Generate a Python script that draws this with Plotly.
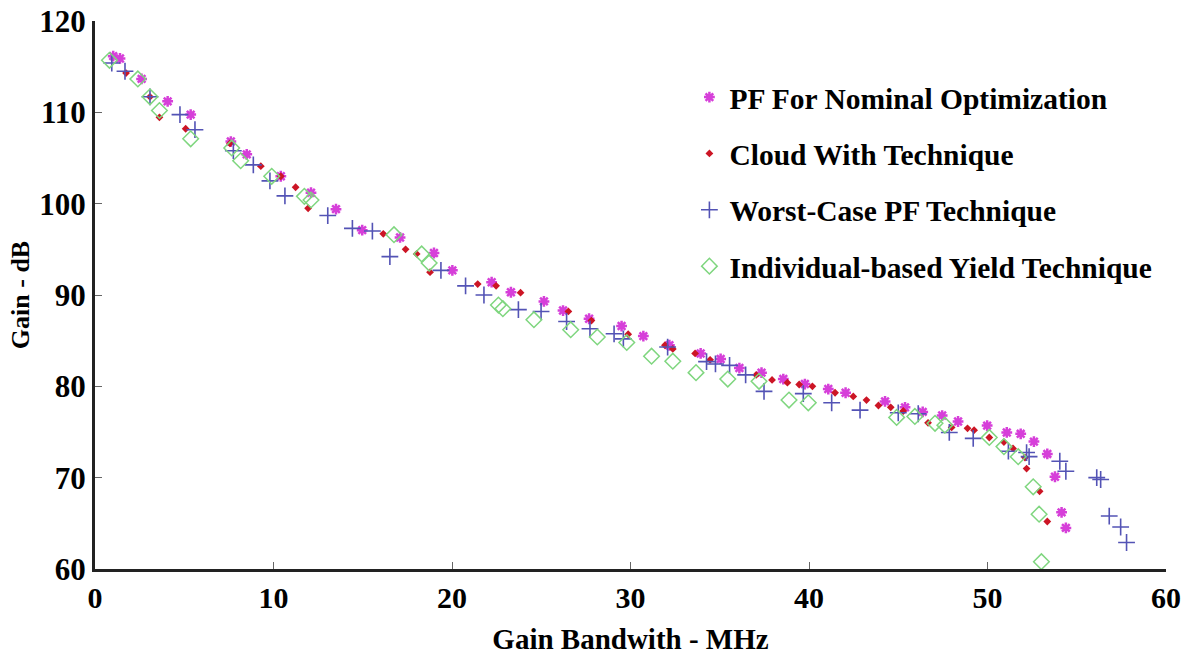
import plotly.graph_objects as go

# ---- data ----
nominal_x = [1.02, 1.40, 2.61, 4.07, 5.36, 7.61, 8.50, 10.41, 12.10, 13.50, 14.97, 17.09, 18.99, 20.02,
             22.22, 23.30, 25.15, 26.22, 27.68, 29.5, 30.72, 32.18, 33.93, 35.05, 36.10, 37.34, 38.56, 39.77,
             41.08, 42.05, 44.26, 45.38, 46.37, 47.46, 48.35, 49.98, 51.08, 51.86, 52.60, 53.35, 53.78,
             54.15, 54.39]
nominal_y = [116.15, 115.9, 113.66, 111.2, 109.75, 106.8, 105.4, 103.0, 101.2, 99.4, 97.1, 96.3, 94.6, 92.7,
             91.4, 90.3, 89.3, 88.3, 87.4, 86.6, 85.5, 84.5, 83.6, 83.0, 82.0, 81.5, 80.8, 80.25,
             79.7, 79.3, 78.35, 77.7, 77.2, 76.8, 76.15, 75.7, 74.95, 74.8, 73.95, 72.6, 70.1,
             66.2, 64.5]

cloud_x = [1.74, 3.08, 3.61, 5.08, 7.56, 9.29, 10.41, 11.24, 11.94, 16.15, 17.40, 18.02, 18.77, 21.44,
           22.47, 23.84, 26.52, 27.81, 29.87, 31.93, 32.37, 33.62, 34.46, 37.04, 37.93, 38.79, 39.45, 40.19,
           41.46, 42.48, 43.22, 43.89, 44.58, 45.28, 46.67, 47.99, 48.88, 49.25, 50.10, 50.92, 51.43, 52.10,
           52.19, 52.92, 53.35]
cloud_y = [114.3, 111.7, 109.45, 108.2, 106.6, 104.1, 103.0, 101.8, 99.5, 96.7, 95.0, 94.5, 92.5, 91.2,
           91.0, 90.25, 88.2, 87.2, 85.7, 84.5, 84.1, 83.6, 82.9, 81.25, 80.7, 80.4, 80.2, 80.0,
           79.3, 78.9, 78.5, 77.9, 77.7, 77.3, 76.0, 75.5, 75.4, 75.2, 74.4, 73.9, 73.2, 72.2,
           71.0, 68.5, 65.2]

worst_x = [0.94, 1.68, 3.08, 4.76, 5.60, 7.75, 8.87, 9.80, 10.64, 13.04, 14.42, 15.54, 16.52, 19.38,
           20.76, 21.79, 23.72, 24.99, 26.42, 27.73, 29.08, 29.6, 32.08, 34.26, 34.76, 35.55, 36.45, 37.48,
           39.68, 41.27, 42.86, 45.00, 46.12, 47.86, 49.20, 51.17, 52.19, 52.33, 54.05, 54.39, 56.12,
           56.34, 56.82, 57.46, 57.79]
worst_y = [115.4, 114.5, 111.7, 109.75, 108.1, 105.8, 104.25, 102.5, 100.85, 98.7, 97.3, 97.0, 94.2, 92.7,
           91.0, 90.0, 88.4, 88.2, 87.1, 86.3, 85.75, 85.2, 84.3, 82.7, 82.45, 82.3, 81.25, 79.45,
           79.2, 78.2, 77.4, 77.1, 77.0, 74.95, 74.3, 72.9, 72.75, 72.3, 71.8, 70.7, 70.0,
           69.8, 65.8, 64.6, 62.9]

yield_x = [0.81, 2.40, 3.08, 3.61, 5.36, 7.66, 8.16, 9.90, 11.73, 12.10, 16.75, 18.30, 18.72, 22.60,
           22.85, 24.59, 26.65, 28.14, 29.79, 31.18, 32.37, 33.67, 35.45, 37.2, 38.88, 39.96, 44.91, 45.93,
           47.06, 47.61, 50.10, 50.92, 51.72, 52.56, 52.89, 53.02]
yield_y = [115.7, 113.66, 111.7, 110.2, 107.1, 106.1, 104.7, 103.0, 100.8, 100.4, 96.6, 94.5, 93.5, 88.9,
           88.5, 87.3, 86.2, 85.4, 84.8, 83.3, 82.75, 81.5, 80.8, 80.55, 78.5, 78.2, 76.6, 76.7,
           75.95, 75.75, 74.4, 73.4, 72.3, 69.0, 66.0, 60.8]

series_names = ["PF For Nominal Optimization", "Cloud With Technique",
                "Worst-Case PF Technique", "Individual-based Yield Technique"]

x_ticks = [0, 10, 20, 30, 40, 50, 60]
y_ticks = [60, 70, 80, 90, 100, 110, 120]

FONT = "Liberation Serif"

fig = go.Figure()
fig.add_trace(go.Scatter(
    x=nominal_x, y=nominal_y, mode="markers", name=series_names[0], legendgroup="a",
    marker=dict(symbol="asterisk", size=9, color="#d63fd9", line=dict(color="#d63fd9", width=2.5))))
fig.add_trace(go.Scatter(
    x=cloud_x, y=cloud_y, mode="markers", name=series_names[1], legendgroup="b",
    marker=dict(symbol="diamond", size=6, color="#cc1525", line=dict(width=0))))
fig.add_trace(go.Scatter(
    x=worst_x, y=worst_y, mode="markers", name=series_names[2], legendgroup="c",
    marker=dict(symbol="cross-thin", size=12, color="#5353b5", line=dict(color="#5353b5", width=1.6))))
fig.add_trace(go.Scatter(
    x=yield_x, y=yield_y, mode="markers", name=series_names[3], legendgroup="d",
    marker=dict(symbol="diamond-open", size=12, color="#7fd67f", line=dict(color="#7fd67f", width=1.5))))

fig.update_layout(
    width=1199, height=661,
    paper_bgcolor="white", plot_bgcolor="white",
    margin=dict(l=95, r=33, t=21, b=92, autoexpand=False),
    font=dict(family=FONT, color="black", size=22),
    legend=dict(x=0.555, y=0.908, xanchor="left", yanchor="top",
                font=dict(family=FONT, size=29.5, color="black", weight="bold"),
                bgcolor="rgba(255,255,255,0)", tracegroupgap=15, itemwidth=30),
    showlegend=True,
)
fig.update_xaxes(
    range=[0, 60], tickvals=x_ticks, ticktext=[str(v) for v in x_ticks],
    showgrid=False, zeroline=False, showline=True, linecolor="#222", linewidth=3,
    ticks="inside", ticklen=7, tickcolor="#666", automargin=False, ticklabeloverflow="allow",
    tickfont=dict(family=FONT, size=30, color="black", weight="bold"),
    title=dict(text="Gain Bandwith - MHz", standoff=16,
               font=dict(family=FONT, size=29, color="black", weight="bold")),
)
fig.update_yaxes(
    range=[60, 120], tickvals=y_ticks, ticktext=[str(v) for v in y_ticks],
    showgrid=False, zeroline=False, showline=True, linecolor="#222", linewidth=3,
    ticks="inside", ticklen=7, tickcolor="#666", automargin=False, ticklabeloverflow="allow",
    tickfont=dict(family=FONT, size=31, color="black", weight="bold"),
    title=dict(text="Gain - dB", standoff=3,
               font=dict(family=FONT, size=26, color="black", weight="bold")),
)

# remove the page's default body margin so the figure fills the window exactly
fig.write_html("out.html", config={"displayModeBar": False},
               post_script="document.body.style.margin='0';document.body.style.overflow='hidden';")
